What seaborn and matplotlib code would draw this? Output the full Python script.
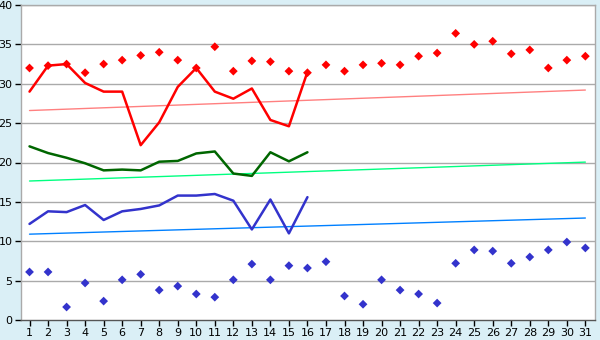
import matplotlib
matplotlib.use("Agg")
import matplotlib.pyplot as plt
import seaborn as sns
import numpy as np
import pandas as pd

days = list(range(1, 32))
line_days = list(range(1, 17))

max_points = [32.0, 32.3, 32.5, 31.4, 32.5, 33.0, 33.6, 34.0, 33.0, 32.0,
              34.7, 31.6, 32.9, 32.8, 31.6, 31.4, 32.4, 31.6, 32.4, 32.6,
              32.4, 33.5, 33.9, 36.4, 35.0, 35.4, 33.8, 34.3, 32.0, 33.0, 33.5]
min_points = [6.1, 6.1, 1.65, 4.7, 2.4, 5.1, 5.8, 3.8, 4.3, 3.3,
              2.9, 5.1, 7.1, 5.1, 6.9, 6.6, 7.4, 3.05, 2.0, 5.1,
              3.8, 3.3, 2.15, 7.2, 8.9, 8.75, 7.2, 8.0, 8.9, 9.9, 9.15]

red_line = [29.0, 32.3, 32.5, 30.1, 29.0, 29.0, 22.2, 25.1, 29.6, 32.0,
            29.0, 28.1, 29.4, 25.4, 24.6, 31.5]
green_line = [22.05, 21.2, 20.6, 19.9, 19.0, 19.1, 19.0, 20.1, 20.2, 21.15,
              21.4, 18.6, 18.3, 21.3, 20.15, 21.3]
blue_line = [12.2, 13.8, 13.7, 14.6, 12.7, 13.8, 14.1, 14.55, 15.8, 15.8,
             16.0, 15.15, 11.5, 15.3, 11.0, 15.6]

trend_days = [1, 31]
red_trend = [26.6, 29.2]
green_trend = [17.65, 20.05]
blue_trend = [10.9, 12.95]

y_ticks = [0, 5, 10, 15, 20, 25, 30, 35, 40]

bg = "#daeff6"
sns.set_theme(style="white")
plt.rcParams['font.family'] = ['DejaVu Sans']

fig = plt.figure(figsize=(6, 3.4), dpi=100, facecolor=bg)
ax = fig.add_axes([21/600, 20/340, 574/600, 315/340])
ax.set_facecolor("white")

for yv in y_ticks[1:]:
    ax.axhline(yv, color="#aaaaaa", lw=1.0, zorder=0)

sns.lineplot(x=trend_days, y=red_trend, color="#ff8080", lw=1.0, ax=ax)
sns.lineplot(x=trend_days, y=green_trend, color="#00ff80", lw=1.0, ax=ax)
sns.lineplot(x=trend_days, y=blue_trend, color="#0080ff", lw=1.0, ax=ax)

sns.lineplot(x=line_days, y=red_line, color="#ff0000", lw=1.8, ax=ax)
sns.lineplot(x=line_days, y=green_line, color="#006600", lw=1.8, ax=ax)
sns.lineplot(x=line_days, y=blue_line, color="#3333cc", lw=1.8, ax=ax)

sns.scatterplot(x=days, y=max_points, color="#ff0000", marker="D", s=20,
                edgecolor="none", ax=ax, zorder=5)
sns.scatterplot(x=days, y=min_points, color="#3333cc", marker="D", s=20,
                edgecolor="none", ax=ax, zorder=5)

ax.set_xlim(0.54, 31.52)
ax.set_ylim(0, 40)
ax.set_xticks(days)
ax.set_xticklabels([str(d) for d in days])
ax.set_yticks(y_ticks)
ax.set_yticklabels([str(v) for v in y_ticks])
ax.tick_params(axis="both", which="both", length=4, width=1, color="black",
               labelsize=8, labelcolor="black", pad=2, direction="out",
               bottom=True, left=True)

for side in ["top", "right", "left"]:
    ax.spines[side].set_color("#aaaaaa")
    ax.spines[side].set_linewidth(1.0)
    ax.spines[side].set_visible(True)
ax.spines["bottom"].set_color("#555555")
ax.spines["bottom"].set_linewidth(1.0)
ax.spines["bottom"].set_visible(True)
ax.set_xlabel("")
ax.set_ylabel("")

fig.savefig("out.png", dpi=100, facecolor=bg)
